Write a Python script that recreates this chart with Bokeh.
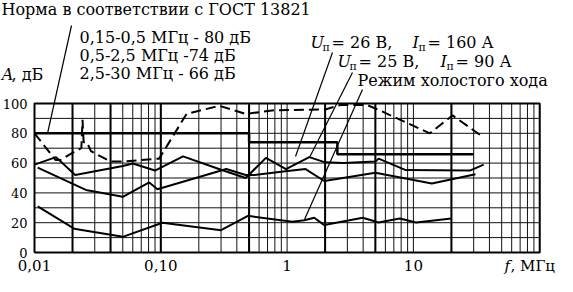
from bokeh.plotting import figure
from bokeh.models import Range1d, Label
from bokeh.core.properties import value
from bokeh.embed import file_html
from bokeh.resources import INLINE

# ---------------- data ----------------
# dashed curve (upper envelope)
dash_f = [0.01, 0.0147, 0.016, 0.021, 0.0235, 0.024, 0.0245, 0.026, 0.028, 0.04,
          0.05, 0.097, 0.16, 0.29, 0.47, 0.8, 2.0, 2.65, 4.3, 5.7, 13.5, 20.4, 35]
dash_db = [80, 62, 62, 68, 70, 89, 74, 74, 68, 61,
           61, 63, 93, 98.5, 93, 95.5, 96, 99, 99, 94.5, 80, 92, 78]

# solid curve A
a_f = [0.01, 0.0148, 0.021, 0.05, 0.06, 0.09, 0.15, 0.3, 0.47, 0.68, 0.98,
       1.5, 2.0, 2.8, 5.0, 5.3, 8.7, 28, 36]
a_db = [59, 64, 52, 58, 59.7, 55, 64.5, 55.5, 50, 63.5, 56,
        64, 60.5, 60, 61, 63, 55.3, 55, 59]

# solid curve B
b_f = [0.0106, 0.0255, 0.05, 0.081, 0.094, 0.33, 0.47, 0.55, 0.97, 1.4, 1.97,
       5.0, 14, 31]
b_db = [57, 42, 37.4, 47, 42.5, 56, 52, 52, 54.6, 56, 48,
        53.5, 46.3, 52.5]

# solid curve C (idle mode)
c_f = [0.0106, 0.0206, 0.05, 0.103, 0.3, 0.49, 1.1, 1.37, 1.64, 1.97, 3.97,
       5.3, 7.8, 10.5, 20]
c_db = [31, 16, 10.5, 20, 15, 24.6, 20.6, 21.7, 23.3, 18.4, 23.3,
        20.1, 22.8, 20.1, 22.8]

# norm (GOST 13821) step line
norm_f = [0.01, 0.5, 0.5, 2.5, 2.5, 30]
norm_db = [80, 80, 74, 74, 66, 66]

# axes / grid
x_ticks = [0.01, 0.1, 1, 10]
x_tick_labels = ["0,01", "0,10", "1", "10"]
y_ticks = [0, 20, 40, 60, 80, 100]
y_tick_labels = ["0", "20", "40", "60", "80", "100"]
grid_x = [k * 10.0 ** d for d in (-2, -1, 0, 1) for k in range(1, 10)] + [100]
grid_x_heavy = [0.02, 0.04, 0.1, 0.5, 2, 5, 20]
grid_y = [10, 20, 30, 40, 50, 60, 70, 80, 90]

# ---------------- layout ----------------
W, H = 557, 276
PX_DEC = 126.3      # pixels per decade
PX_DB = 1.49        # pixels per dB
X0 = 0.01
PAGE_X0 = 42        # page x of 0.01 MHz
PAGE_Y0 = 260       # page y of 0 dB


def px(x, y):
    """page pixel -> data coordinates"""
    return X0 * 10 ** ((x - PAGE_X0) / PX_DEC), (PAGE_Y0 - y) / PX_DB


x_start, y_top = px(8, 8)
x_end, y_bottom = px(8 + W, 8 + H)

p = figure(width=W, height=H, x_axis_type="log",
           x_range=Range1d(x_start, x_end), y_range=Range1d(y_bottom, y_top),
           x_axis_location=None, y_axis_location=None,
           output_backend="svg", toolbar_location=None,
           min_border=0)
p.outline_line_color = None
p.xgrid.visible = False
p.ygrid.visible = False
p.background_fill_color = "white"

FONT = "DejaVu Serif"

xmin, xmax = grid_x[0], grid_x[-1]
ymin, ymax = y_ticks[0], y_ticks[-1]

# grid
p.segment(x0=grid_x, y0=[ymin] * len(grid_x), x1=grid_x,
          y1=[ymax] * len(grid_x), line_color="#111111", line_width=1)
p.segment(x0=grid_x_heavy, y0=[ymin] * len(grid_x_heavy), x1=grid_x_heavy,
          y1=[ymax] * len(grid_x_heavy), line_color="black", line_width=2)
p.segment(x0=[xmin] * len(grid_y), y0=grid_y, x1=[xmax] * len(grid_y),
          y1=grid_y, line_color="#111111", line_width=1)
# frame
p.line([xmin, xmax, xmax, xmin, xmin], [ymin, ymin, ymax, ymax, ymin],
       line_color="black", line_width=2)

# tick labels
_, y_xlab = px(0, 273)
p.text(x=x_ticks, y=[y_xlab] * len(x_ticks), text=x_tick_labels,
       text_font=value(FONT), text_font_size=value("15px"), text_color="black",
       text_align="center", text_baseline="middle")
x_ylab, _ = px(35, 0)
p.text(x=[x_ylab] * len(y_ticks), y=y_ticks, text=y_tick_labels,
       text_font=value(FONT), text_font_size=value("13px"), text_color="black",
       text_align="right", text_baseline="middle")

# curves
p.line(norm_f, norm_db, line_color="black", line_width=2.5)
p.line(dash_f, dash_db, line_color="black", line_width=2, line_dash="10 5")
p.line(a_f, a_db, line_color="black", line_width=2)
p.line(b_f, b_db, line_color="black", line_width=2)
p.line(c_f, c_db, line_color="black", line_width=2)

# leader lines (page pixel endpoints)
leaders = [((79, 33), (55, 141)),
           ((340, 60), (303, 164)),
           ((360, 80), (317, 165)),
           ((370, 97), (312, 227))]
for (xa0, ya0), (xa1, ya1) in leaders:
    x0d, y0d = px(xa0, ya0)
    x1d, y1d = px(xa1, ya1)
    p.line([x0d, x1d], [y0d, y1d], line_color="black", line_width=1.2)


def lab(text, x, y, size=16, style="normal", dy=0):
    xd, yd = px(x, y + dy)
    p.add_layout(Label(x=xd, y=yd, text=text, text_font=FONT,
                       text_font_size=f"{size}px", text_font_style=style,
                       text_color="black", text_align="left",
                       text_baseline="middle"))


lab("Норма в соответствии с ГОСТ 13821", 9, 17)
lab("0,15-0,5 МГц - 80 дБ", 87, 45)
lab("0,5-2,5 МГц -74 дБ", 87, 63)
lab("2,5-30 МГц - 66 дБ", 87, 81)
lab("А", 9, 82, style="italic")
lab(", дБ", 19, 82)

# U = 26 V, I = 160 A
lab("U", 318, 50, style="italic")
lab("п", 330, 50, size=11, dy=5)
lab("= 26 В,", 339, 50)
lab("I", 420, 50, style="italic")
lab("п", 426, 50, size=11, dy=5)
lab("= 160 А", 435, 50)
# U = 25 V, I = 90 A
lab("U", 345, 69, style="italic")
lab("п", 357, 69, size=11, dy=5)
lab("= 25 В,", 366, 69)
lab("I", 448, 69, style="italic")
lab("п", 454, 69, size=11, dy=5)
lab("= 90 А", 463, 69)

lab("Режим холостого хода", 365, 88)

lab("f", 512, 273, size=15, style="italic")
lab(", МГц", 518, 273, size=15)

open("out.html", "w").write(file_html(p, INLINE))
